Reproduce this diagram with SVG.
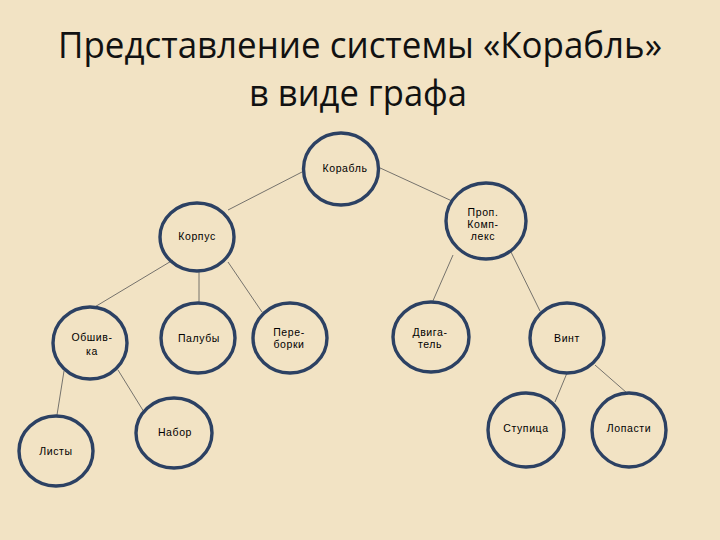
<svg xmlns="http://www.w3.org/2000/svg" width="720" height="540" viewBox="0 0 720 540">
<style>
.title{font-family:"Open Sans","Liberation Sans",sans-serif;font-size:37px;fill:#111;text-anchor:middle}
.node ellipse{fill:none;stroke:#2C4163;stroke-width:3.4}
.node text{font-family:"Liberation Sans","DejaVu Sans",sans-serif;font-size:10.5px;letter-spacing:0.6px;fill:#000;text-anchor:middle}
#edges line{stroke:#555;stroke-width:0.8}
</style>
<rect width="720" height="540" fill="#F2E3C4"/>
<text class="title" x="360" y="58" textLength="604" lengthAdjust="spacingAndGlyphs">Представление системы «Корабль»</text>
<text class="title" x="358" y="106" textLength="218" lengthAdjust="spacingAndGlyphs">в виде графа</text>
<g id="edges">
<line x1="302" y1="172" x2="228" y2="210"/>
<line x1="378" y1="167" x2="452" y2="201"/>
<line x1="173" y1="260" x2="93" y2="308"/>
<line x1="199" y1="271" x2="199" y2="303"/>
<line x1="228" y1="262" x2="262" y2="312"/>
<line x1="453" y1="255" x2="432" y2="303"/>
<line x1="510" y1="250" x2="540" y2="311"/>
<line x1="64" y1="371" x2="57" y2="415"/>
<line x1="118" y1="370" x2="144" y2="412"/>
<line x1="567" y1="373" x2="555" y2="402"/>
<line x1="595" y1="365" x2="627" y2="393"/>
</g>
<g id="n-korabl" class="node"><ellipse cx="341" cy="169" rx="37.5" ry="36"/><text x="345" y="172">Корабль</text></g>
<g id="n-korpus" class="node"><ellipse cx="197" cy="237" rx="37" ry="34"/><text x="197" y="240">Корпус</text></g>
<g id="n-prop" class="node"><ellipse cx="486" cy="221" rx="40" ry="38"/><text x="483" y="216">Проп.</text><text x="483" y="228">Комп-</text><text x="483" y="240">лекс</text></g>
<g id="n-obshivka" class="node"><ellipse cx="90" cy="343" rx="37" ry="36"/><text x="92" y="341">Обшив-</text><text x="92" y="355">ка</text></g>
<g id="n-paluby" class="node"><ellipse cx="198" cy="338" rx="37" ry="35"/><text x="199" y="342">Палубы</text></g>
<g id="n-pereborki" class="node"><ellipse cx="290" cy="338" rx="37" ry="35"/><text x="289" y="336">Пере-</text><text x="289" y="348">борки</text></g>
<g id="n-dvigatel" class="node"><ellipse cx="431" cy="337" rx="38" ry="35"/><text x="430" y="336">Двига-</text><text x="430" y="348">тель</text></g>
<g id="n-vint" class="node"><ellipse cx="567" cy="338" rx="37" ry="35"/><text x="567" y="342">Винт</text></g>
<g id="n-listy" class="node"><ellipse cx="56" cy="451" rx="37" ry="35"/><text x="56" y="455">Листы</text></g>
<g id="n-nabor" class="node"><ellipse cx="174" cy="433" rx="38" ry="35"/><text x="175" y="436">Набор</text></g>
<g id="n-stupica" class="node"><ellipse cx="526" cy="430" rx="38" ry="37"/><text x="526" y="432">Ступица</text></g>
<g id="n-lopasti" class="node"><ellipse cx="629" cy="430" rx="37" ry="37"/><text x="629" y="432">Лопасти</text></g>
</svg>
